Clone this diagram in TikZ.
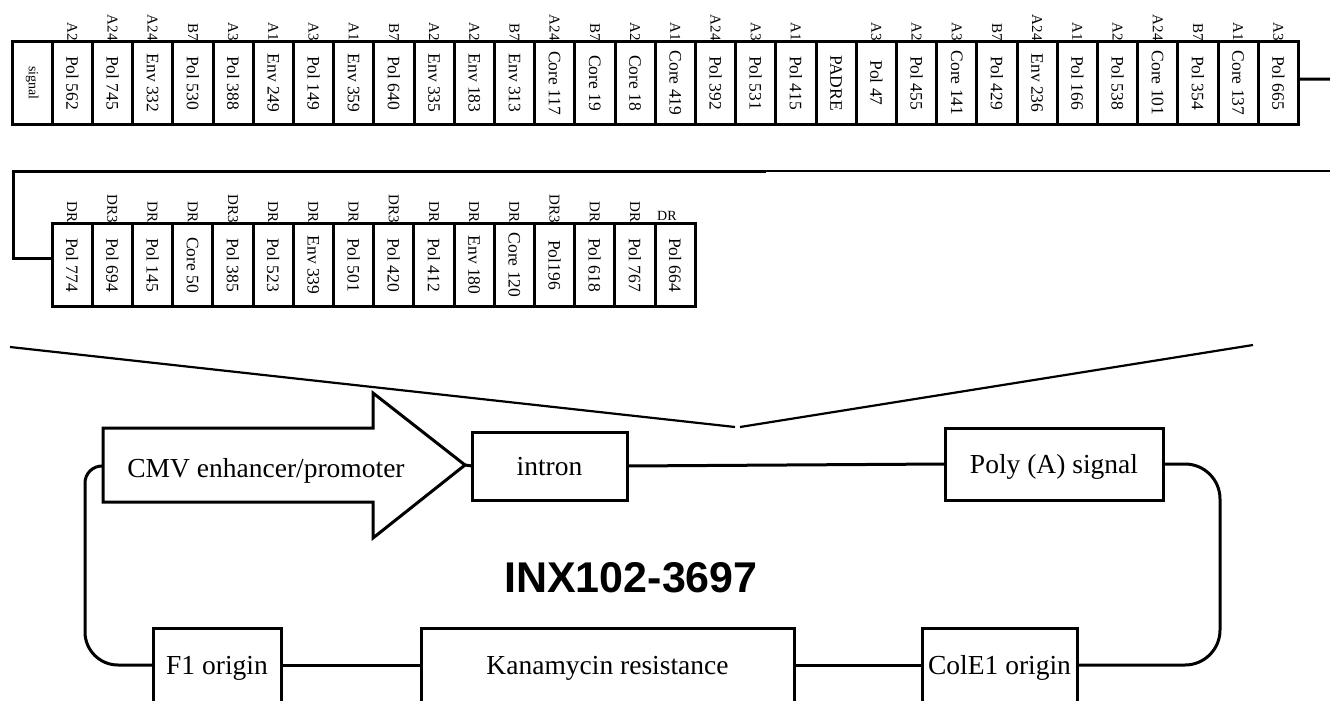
\documentclass[tikz,border=0pt]{standalone}
\usepackage{fontspec}
\setmainfont{Liberation Serif}
\setsansfont{Liberation Sans}
\usepackage{graphicx}
\usetikzlibrary{positioning,calc}

\begin{document}
\begin{tikzpicture}[x=10pt, y=-10pt,
    cell/.style={draw, line width=3pt, outer sep=0pt, inner sep=0pt, minimum width=40.2pt, minimum height=83pt, font=\fontsize{17.5}{17.5}\selectfont},
    tag/.style={rotate=-90, anchor=east, inner sep=0.5pt, font=\fontsize{15}{15}\selectfont},
    part/.style={draw, line width=3pt, outer sep=0pt, inner sep=0pt, text depth=0pt, minimum height=68pt, font=\fontsize{27.5}{27.5}\selectfont},
    wire/.style={line width=3pt}]
        \useasboundingbox (0,0) rectangle (133,70.1);
        \clip (0,0) rectangle (133,70.1);

        % First row of epitopes
        \node[cell, font=\fontsize{14}{14}\selectfont] (t1) at ({1.2+4.02*0.5}, 8.3) {\rotatebox{-90}{signal}};
        \foreach \lbl/\tg [count=\i from 2] in {Pol 562/A2, Pol 745/A24, Env 332/A24, Pol 530/B7, Pol 388/A3, Env 249/A1, Pol 149/A3,
            Env 359/A1, Pol 640/B7, Env 335/A2, Env 183/A2, Env 313/B7, Core 117/A24, Core 19/B7, Core 18/A2, Core 419/A1,
            Pol 392/A24, Pol 531/A3, Pol 415/A1, PADRE/, Pol 47/A3, Pol 455/A2, Core 141/A3, Pol 429/B7, Env 236/A24,
            Pol 166/A1, Pol 538/A2, Core 101/A24, Pol 354/B7, Core 137/A1, Pol 665/A3}{
            \node[cell] (t\i) at ({1.2+4.02*(\i-0.5)}, 8.3) {\rotatebox{-90}{\lbl}};
            \ifx\tg\empty\else\node[tag] (a\i) at (t\i.north) {\tg};\fi
        }
        \coordinate (rowend) at (133.5, 7.9);
        \draw[wire] ([yshift=4pt]t32.east) -- (rowend);

        % Second row of epitopes
        \foreach \lbl/\tg [count=\i] in {Pol 774/DR, Pol 694/DR3, Pol 145/DR, Core 50/DR, Pol 385/DR3, Pol 523/DR, Env 339/DR,
            Pol 501/DR, Pol 420/DR3, Pol 412/DR, Env 180/DR, Core 120/DR, Pol196/DR3, Pol 618/DR, Pol 767/DR}{
            \node[cell] (u\i) at ({5.2+4.02*(\i-0.5)}, 26.5) {\rotatebox{-90}{\lbl}};
            \node[tag] (b\i) at (u\i.north) {\tg};
        }
        \node[cell] (u16) at ({5.2+4.02*15.5}, 26.5) {\rotatebox{-90}{Pol 664}};
        \node[anchor=base west, inner sep=0pt, font=\fontsize{14}{14}\selectfont] (b16) at (65.7,22.0) {DR};

        \coordinate (bend) at (1.3,17.1);
        \coordinate (midend) at (76.6,17.1);
        \coordinate (lineend) at (133.5,17.1);
        \draw[wire] ([yshift=7pt]u1.west) -| (bend) -- (midend);
        \draw[line width=2pt] (midend) -- (lineend);

        % Zoom lines
        \coordinate (zl) at (1.0,34.7);
        \coordinate (zm) at (73.5,42.7);
        \coordinate (zn) at (74.0,42.7);
        \coordinate (zr) at (125.3,34.5);
        \draw[line width=2.2pt] (zl) -- (zm);
        \draw[line width=2.2pt] (zn) -- (zr);

        % Plasmid map
        \draw[line width=3pt] (10.3,42.8) -- (37.3,42.8) -- (37.3,39.3) -- (46.5,46.5) -- (37.3,53.8) -- (37.3,50.2) -- (10.3,50.2) -- cycle;
        \node[font=\fontsize{27.5}{27.5}\selectfont, text depth=0pt] (cmv) at (26.6,46.8) {CMV enhancer/promoter};
        \coordinate (cmvtail) at (10.3,46.6);
        \coordinate (cmvtip) at (46.5,46.5);

        \node[part, minimum width=155pt] (intron) at (54.95,46.6) {intron};
        \node[part, minimum width=218pt, minimum height=72pt] (polya) at (105.4,46.4) {Poly (A) signal};
        \node[part, minimum width=128pt, minimum height=74pt] (fone) at (21.7,66.5) {F1 origin};
        \node[part, minimum width=373pt, minimum height=74pt] (kan) at (60.75,66.5) {Kanamycin resistance};
        \node[part, minimum width=155pt, minimum height=74pt] (cole) at (99.95,66.5) {ColE1 origin};
        \node[font=\sffamily\bfseries\fontsize{43}{43}\selectfont] (title) at (63.1,57.8) {INX102-3697};

        \draw[wire] (cmvtip) -- (intron.west);
        \draw[wire] (intron.east) -- (polya.west);
        \draw[wire, rounded corners=35pt] (polya.east) -- (122,46.4) -- (122,66.5) -- (cole.east);
        \draw[wire] (cole.west) -- (kan.east);
        \draw[wire] (kan.west) -- (fone.east);
        \draw[wire] (cmvtail) [rounded corners=17pt] -- (8.5,46.6) [rounded corners=33pt] -- (8.5,66.5) -- (fone.west);
    \end{tikzpicture}
\end{document}
